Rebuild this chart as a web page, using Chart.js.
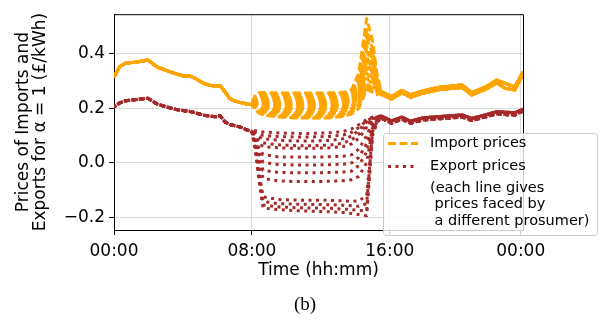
<!DOCTYPE html>
<html>
<head>
<meta charset="utf-8">
<script src="https://cdn.jsdelivr.net/npm/chart.js@4.4.1/dist/chart.umd.min.js"></script>
<style>
  html, body { margin: 0; padding: 0; background: #fff; }
  #wrap { width: 607px; height: 320px; }
</style>
</head>
<body>
<div id="wrap"><canvas id="priceChart" width="607" height="320"></canvas></div>
<script>
// hours since midnight; before 08:00 every prosumer sees the same prices
const morningHours = [0, 0.33, 0.67, 1.1, 1.5, 1.97, 2.17, 2.5, 3.0, 3.6, 4.0, 4.4, 4.8, 5.2, 5.6, 5.95, 6.15, 6.45, 6.7, 6.95, 7.3, 7.7, 8.0];
const importMorning = [0.315, 0.353, 0.366, 0.369, 0.372, 0.378, 0.368, 0.352, 0.340, 0.327, 0.320, 0.319, 0.307, 0.292, 0.284, 0.282, 0.284, 0.260, 0.237, 0.228, 0.222, 0.216, 0.214];
const exportMorning = [0.205, 0.220, 0.228, 0.231, 0.234, 0.237, 0.229, 0.216, 0.206, 0.196, 0.192, 0.189, 0.182, 0.175, 0.171, 0.169, 0.173, 0.150, 0.141, 0.137, 0.132, 0.121, 0.115];

// daytime: one row per prosumer
const middayHours = [8.2, 8.4, 8.65, 9.5, 10.5, 11.5, 12.5, 13.3, 13.8, 14.2, 14.66, 15.0, 15.25];
const importMidday = [
  [0.250, 0.257, 0.258, 0.257, 0.256, 0.256, 0.257, 0.258, 0.270, 0.330, 0.530, 0.450, 0.330],
  [0.245, 0.250, 0.251, 0.250, 0.249, 0.249, 0.250, 0.252, 0.265, 0.310, 0.490, 0.420, 0.315],
  [0.240, 0.243, 0.243, 0.242, 0.241, 0.241, 0.242, 0.245, 0.258, 0.300, 0.460, 0.400, 0.305],
  [0.235, 0.236, 0.235, 0.233, 0.232, 0.232, 0.233, 0.236, 0.250, 0.290, 0.430, 0.380, 0.300],
  [0.230, 0.229, 0.227, 0.225, 0.223, 0.223, 0.224, 0.228, 0.242, 0.280, 0.410, 0.360, 0.295],
  [0.225, 0.222, 0.219, 0.216, 0.214, 0.214, 0.215, 0.220, 0.235, 0.270, 0.390, 0.340, 0.290],
  [0.220, 0.215, 0.211, 0.207, 0.205, 0.205, 0.206, 0.211, 0.227, 0.260, 0.370, 0.330, 0.285],
  [0.215, 0.208, 0.203, 0.199, 0.196, 0.196, 0.197, 0.203, 0.218, 0.250, 0.350, 0.310, 0.280],
  [0.210, 0.202, 0.196, 0.191, 0.188, 0.187, 0.188, 0.195, 0.210, 0.240, 0.330, 0.300, 0.270],
  [0.205, 0.196, 0.190, 0.184, 0.180, 0.179, 0.180, 0.187, 0.200, 0.230, 0.310, 0.290, 0.265],
  [0.200, 0.190, 0.184, 0.177, 0.173, 0.172, 0.173, 0.179, 0.192, 0.220, 0.290, 0.275, 0.260],
  [0.198, 0.186, 0.179, 0.172, 0.168, 0.167, 0.168, 0.174, 0.186, 0.210, 0.280, 0.265, 0.255],
  [0.195, 0.183, 0.175, 0.168, 0.165, 0.164, 0.165, 0.170, 0.180, 0.200, 0.270, 0.260, 0.250]
];
const exportMidday = [
  [0.118, 0.115, 0.113, 0.110, 0.108, 0.108, 0.110, 0.115, 0.125, 0.140, 0.160, 0.168, 0.170],
  [0.112, 0.106, 0.101, 0.097, 0.095, 0.095, 0.097, 0.102, 0.112, 0.130, 0.155, 0.165, 0.168],
  [0.105, 0.095, 0.089, 0.083, 0.080, 0.080, 0.082, 0.088, 0.098, 0.120, 0.150, 0.163, 0.167],
  [0.098, 0.083, 0.073, 0.066, 0.063, 0.063, 0.065, 0.072, 0.085, 0.105, 0.140, 0.160, 0.166],
  [0.093, 0.072, 0.059, 0.055, 0.053, 0.053, 0.055, 0.060, 0.070, 0.090, 0.130, 0.155, 0.165],
  [0.085, 0.055, 0.030, 0.022, 0.021, 0.021, 0.022, 0.024, 0.030, 0.050, 0.100, 0.148, 0.163],
  [0.080, 0.040, 0.002, -0.006, -0.008, -0.008, -0.007, -0.005, 0.000, 0.020, 0.070, 0.140, 0.160],
  [0.075, 0.025, -0.028, -0.035, -0.037, -0.037, -0.036, -0.034, -0.030, -0.010, 0.040, 0.135, 0.158],
  [0.070, 0.010, -0.058, -0.066, -0.069, -0.069, -0.068, -0.066, -0.062, -0.050, 0.000, 0.128, 0.155],
  [0.060, -0.030, -0.125, -0.135, -0.137, -0.138, -0.138, -0.140, -0.142, -0.140, -0.120, 0.120, 0.152],
  [0.057, -0.040, -0.142, -0.150, -0.152, -0.153, -0.154, -0.156, -0.158, -0.160, -0.150, 0.115, 0.150],
  [0.054, -0.050, -0.155, -0.162, -0.165, -0.166, -0.167, -0.170, -0.172, -0.175, -0.176, 0.108, 0.148],
  [0.050, -0.060, -0.166, -0.172, -0.176, -0.178, -0.180, -0.183, -0.186, -0.190, -0.195, 0.100, 0.145]
];

// evening: prices close up again, two slightly different bands
const eveningHours = [15.5, 16.1, 16.7, 17.2, 17.9, 18.9, 19.6, 20.2, 20.75, 21.6, 22.2, 22.7, 23.25, 23.73];
const importEvening = [
  [0.262, 0.243, 0.266, 0.250, 0.264, 0.278, 0.282, 0.286, 0.258, 0.280, 0.304, 0.292, 0.279, 0.334],
  [0.252, 0.234, 0.257, 0.241, 0.255, 0.269, 0.273, 0.277, 0.249, 0.271, 0.293, 0.274, 0.267, 0.325]
];
const exportEvening = [
  [0.172, 0.154, 0.168, 0.153, 0.165, 0.170, 0.173, 0.176, 0.163, 0.177, 0.188, 0.186, 0.184, 0.197],
  [0.164, 0.145, 0.160, 0.145, 0.157, 0.162, 0.165, 0.168, 0.155, 0.169, 0.180, 0.177, 0.175, 0.190]
];

const xTickHours = [0, 8, 16, 23.6];
const xTickLabels = ['00:00', '08:00', '16:00', '00:00'];
const yTickValues = [-0.2, 0, 0.2, 0.4];
const yTickLabels = ['\u22120.2', '0.0', '0.2', '0.4'];
const legendLabels = ['Import prices', 'Export prices'];
const legendNote = ['(each line gives', ' prices faced by', ' a different prosumer)'];

const IMPORT_COLOR = '#ffa500';
const EXPORT_COLOR = '#a52a2a';
const LINE_W = 3;
const IMPORT_DASH = [8, 3.5];
const EXPORT_DASH = [3, 4.5];

function toPoints(hours, values) {
  return hours.map((h, i) => ({ x: h, y: values[i] }));
}

const datasets = [];
exportMidday.forEach((mid, i) => {
  datasets.push({
    data: toPoints(morningHours, exportMorning).concat(toPoints(middayHours, mid), toPoints(eveningHours, exportEvening[i % 2])),
    borderColor: EXPORT_COLOR,
    borderWidth: LINE_W,
    borderDash: EXPORT_DASH,
    borderDashOffset: i * 0.3
  });
});
importMidday.forEach((mid, i) => {
  datasets.push({
    data: toPoints(morningHours, importMorning).concat(toPoints(middayHours, mid), toPoints(eveningHours, importEvening[i % 2])),
    borderColor: IMPORT_COLOR,
    borderWidth: LINE_W,
    borderDash: IMPORT_DASH,
    borderDashOffset: i * 0.5
  });
});

function roundBox(ctx, x, y, w, h, r) {
  ctx.beginPath();
  ctx.moveTo(x + r, y);
  ctx.arcTo(x + w, y, x + w, y + h, r);
  ctx.arcTo(x + w, y + h, x, y + h, r);
  ctx.arcTo(x, y + h, x, y, r);
  ctx.arcTo(x, y, x + w, y, r);
  ctx.closePath();
}

// top/right spines, boxed legend and the "(b)" caption
const framePlugin = {
  id: 'frameAndLegend',
  afterDraw(chart) {
    const { ctx, chartArea } = chart;
    ctx.save();
    ctx.strokeStyle = '#000';
    ctx.lineWidth = 1;
    ctx.setLineDash([]);
    ctx.beginPath();
    ctx.moveTo(chartArea.left, chartArea.top + 0.5);
    ctx.lineTo(chartArea.right + 0.5, chartArea.top + 0.5);
    ctx.lineTo(chartArea.right + 0.5, chartArea.bottom);
    ctx.stroke();

    const lx = chartArea.right - 140, ly = 133;
    roundBox(ctx, lx + 0.5, ly + 0.5, 214, 102, 3);
    ctx.fillStyle = 'rgba(255,255,255,0.8)';
    ctx.fill();
    ctx.strokeStyle = '#cccccc';
    ctx.stroke();

    ctx.lineWidth = LINE_W;
    ctx.lineCap = 'butt';
    ctx.strokeStyle = IMPORT_COLOR;
    ctx.setLineDash(IMPORT_DASH);
    ctx.beginPath();
    ctx.moveTo(lx + 5, ly + 10.5);
    ctx.lineTo(lx + 35, ly + 10.5);
    ctx.stroke();
    ctx.strokeStyle = EXPORT_COLOR;
    ctx.setLineDash(EXPORT_DASH);
    ctx.beginPath();
    ctx.moveTo(lx + 5, ly + 33.5);
    ctx.lineTo(lx + 35, ly + 33.5);
    ctx.stroke();
    ctx.setLineDash([]);

    ctx.fillStyle = '#000';
    ctx.font = '14.5px "DejaVu Sans"';
    ctx.textAlign = 'left';
    ctx.textBaseline = 'middle';
    ctx.fillText(legendLabels[0], lx + 47, ly + 10.5);
    ctx.fillText(legendLabels[1], lx + 47, ly + 33.5);
    legendNote.forEach((t, i) => ctx.fillText(t, lx + 47, ly + 55.5 + i * 16.2));

    ctx.font = '19px "Liberation Serif"';
    ctx.textAlign = 'center';
    ctx.fillText('(b)', 305, 305);
    ctx.restore();
  }
};

Chart.defaults.font.family = '"DejaVu Sans"';
Chart.defaults.color = '#000';

new Chart(document.getElementById('priceChart').getContext('2d'), {
  type: 'line',
  data: { datasets: datasets },
  options: {
    responsive: false,
    animation: false,
    devicePixelRatio: 1,
    layout: { padding: { left: 4, right: 84, top: 4, bottom: 36 } },
    elements: {
      point: { radius: 0, hoverRadius: 0 },
      line: { tension: 0, fill: false, borderCapStyle: 'butt', borderJoinStyle: 'round' }
    },
    plugins: {
      legend: { display: false },
      tooltip: { enabled: false }
    },
    scales: {
      x: {
        type: 'linear',
        min: 0,
        max: 23.73,
        afterBuildTicks: (scale) => { scale.ticks = xTickHours.map(v => ({ value: v })); },
        afterFit: (scale) => { scale.height = 54; },
        ticks: {
          autoSkip: false,
          maxRotation: 0,
          padding: 6,
          font: { size: 17 },
          callback: (v, i) => xTickLabels[i]
        },
        grid: { color: 'rgba(176,176,176,0.45)', lineWidth: 1, tickColor: '#000', tickLength: 5 },
        border: { color: '#000', width: 1 },
        title: { display: true, text: 'Time (hh:mm)', font: { size: 17 }, padding: { top: 2, bottom: 3 } }
      },
      y: {
        min: -0.247,
        max: 0.546,
        afterBuildTicks: (scale) => { scale.ticks = yTickValues.map(v => ({ value: v })); },
        afterFit: (scale) => { scale.width = 110; },
        ticks: {
          padding: 4,
          font: { size: 17 },
          callback: (v, i) => yTickLabels[i]
        },
        grid: { color: 'rgba(176,176,176,0.45)', lineWidth: 1, tickColor: '#000', tickLength: 5 },
        border: { color: '#000', width: 1 },
        title: {
          display: true,
          text: ['Prices of Imports and', 'Exports for \u03b1 = 1 (\u00a3/kWh)'],
          font: { size: 17, lineHeight: 1.0 },
          padding: { top: 11, bottom: 0 }
        }
      }
    }
  },
  plugins: [framePlugin]
});
</script>
</body>
</html>
